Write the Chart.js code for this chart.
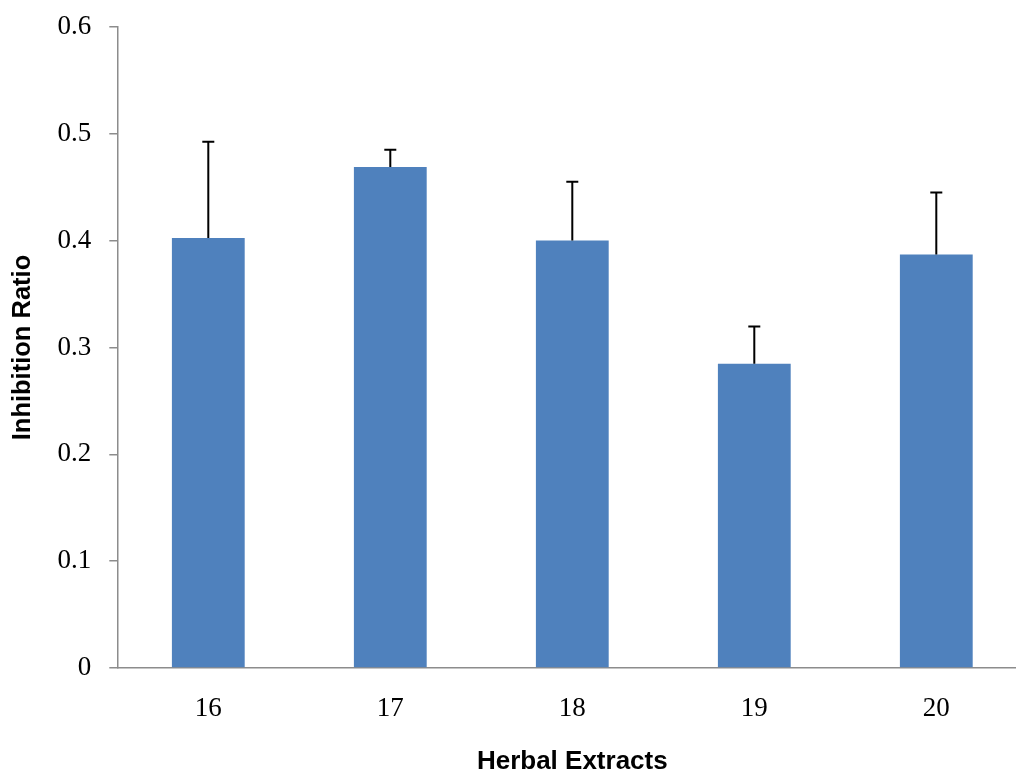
<!DOCTYPE html>
<html>
<head>
<meta charset="utf-8">
<script src="https://cdn.jsdelivr.net/npm/chart.js@4.4.1/dist/chart.umd.min.js"></script>
<style>
  html, body { margin: 0; padding: 0; background: #ffffff; overflow: hidden; width: 1016px; height: 773px; }
  #wrap { position: absolute; left: 0; top: 0; width: 1040px; height: 773px; }
</style>
</head>
<body>
<div id="wrap"><canvas id="c"></canvas></div>
<script>
const categories = ['16', '17', '18', '19', '20'];
const ratioValues = [0.4026, 0.469, 0.4002, 0.2847, 0.387];
const ratioErrors = [0.090, 0.016, 0.055, 0.035, 0.058];
const yTickLabels = ['0', '0.1', '0.2', '0.3', '0.4', '0.5', '0.6'];

const errorBarPlugin = {
  id: 'errorBars',
  afterDatasetsDraw(chart) {
    const ctx = chart.ctx;
    const xs = chart.scales.x, ys = chart.scales.y;
    ctx.save();
    ctx.strokeStyle = '#000000';
    ctx.lineWidth = 2;
    ratioValues.forEach((v, i) => {
      const x = xs.getPixelForValue(i);
      const yb = ys.getPixelForValue(v);
      const yt = ys.getPixelForValue(v + ratioErrors[i]);
      ctx.beginPath();
      ctx.moveTo(x, yb);
      ctx.lineTo(x, yt);
      ctx.moveTo(x - 6, yt);
      ctx.lineTo(x + 6, yt);
      ctx.stroke();
    });
    ctx.restore();
  }
};

new Chart(document.getElementById('c'), {
  type: 'bar',
  data: {
    labels: categories,
    datasets: [{
      data: ratioValues,
      backgroundColor: '#4F81BD',
      borderWidth: 0,
      barPercentage: 1.0,
      categoryPercentage: 0.4
    }]
  },
  options: {
    responsive: true,
    maintainAspectRatio: false,
    animation: false,
    events: [],
    layout: { padding: { left: 0, right: 12.7, top: 27, bottom: 0 } },
    plugins: { legend: { display: false }, tooltip: { enabled: false } },
    scales: {
      x: {
        grid: { display: false, drawTicks: false },
        border: { display: true, color: '#8c8c8c', width: 1.5 },
        ticks: {
          color: '#000000',
          font: { family: '"Liberation Serif", serif', size: 27 },
          padding: 25,
          maxRotation: 0
        },
        title: {
          display: true,
          text: 'Herbal Extracts',
          color: '#000000',
          font: { family: '"Liberation Sans", Arial, sans-serif', size: 26, weight: 'bold', lineHeight: 1 },
          padding: { top: 0, bottom: -2 }
        },
        afterFit(scale) { scale.height = 105; scale.paddingLeft = 0; scale.paddingRight = 0; }
      },
      y: {
        min: 0,
        max: 0.6,
        grid: { display: true, drawOnChartArea: false, drawTicks: true, tickLength: 8, color: '#8c8c8c', lineWidth: 1.5 },
        border: { display: true, color: '#8c8c8c', width: 1.5 },
        ticks: {
          stepSize: 0.1,
          color: '#000000',
          font: { family: '"Liberation Serif", serif', size: 27 },
          padding: 18,
          callback: (value, index) => yTickLabels[index]
        },
        title: {
          display: true,
          text: 'Inhibition Ratio',
          color: '#000000',
          font: { family: '"Liberation Sans", Arial, sans-serif', size: 25.5, weight: 'bold', lineHeight: 1 },
          padding: { top: 10, bottom: 0 }
        },
        afterFit(scale) { scale.width = 117.3; scale.paddingTop = 0; scale.paddingBottom = 0; }
      }
    }
  },
  plugins: [errorBarPlugin]
});
</script>
</body>
</html>
